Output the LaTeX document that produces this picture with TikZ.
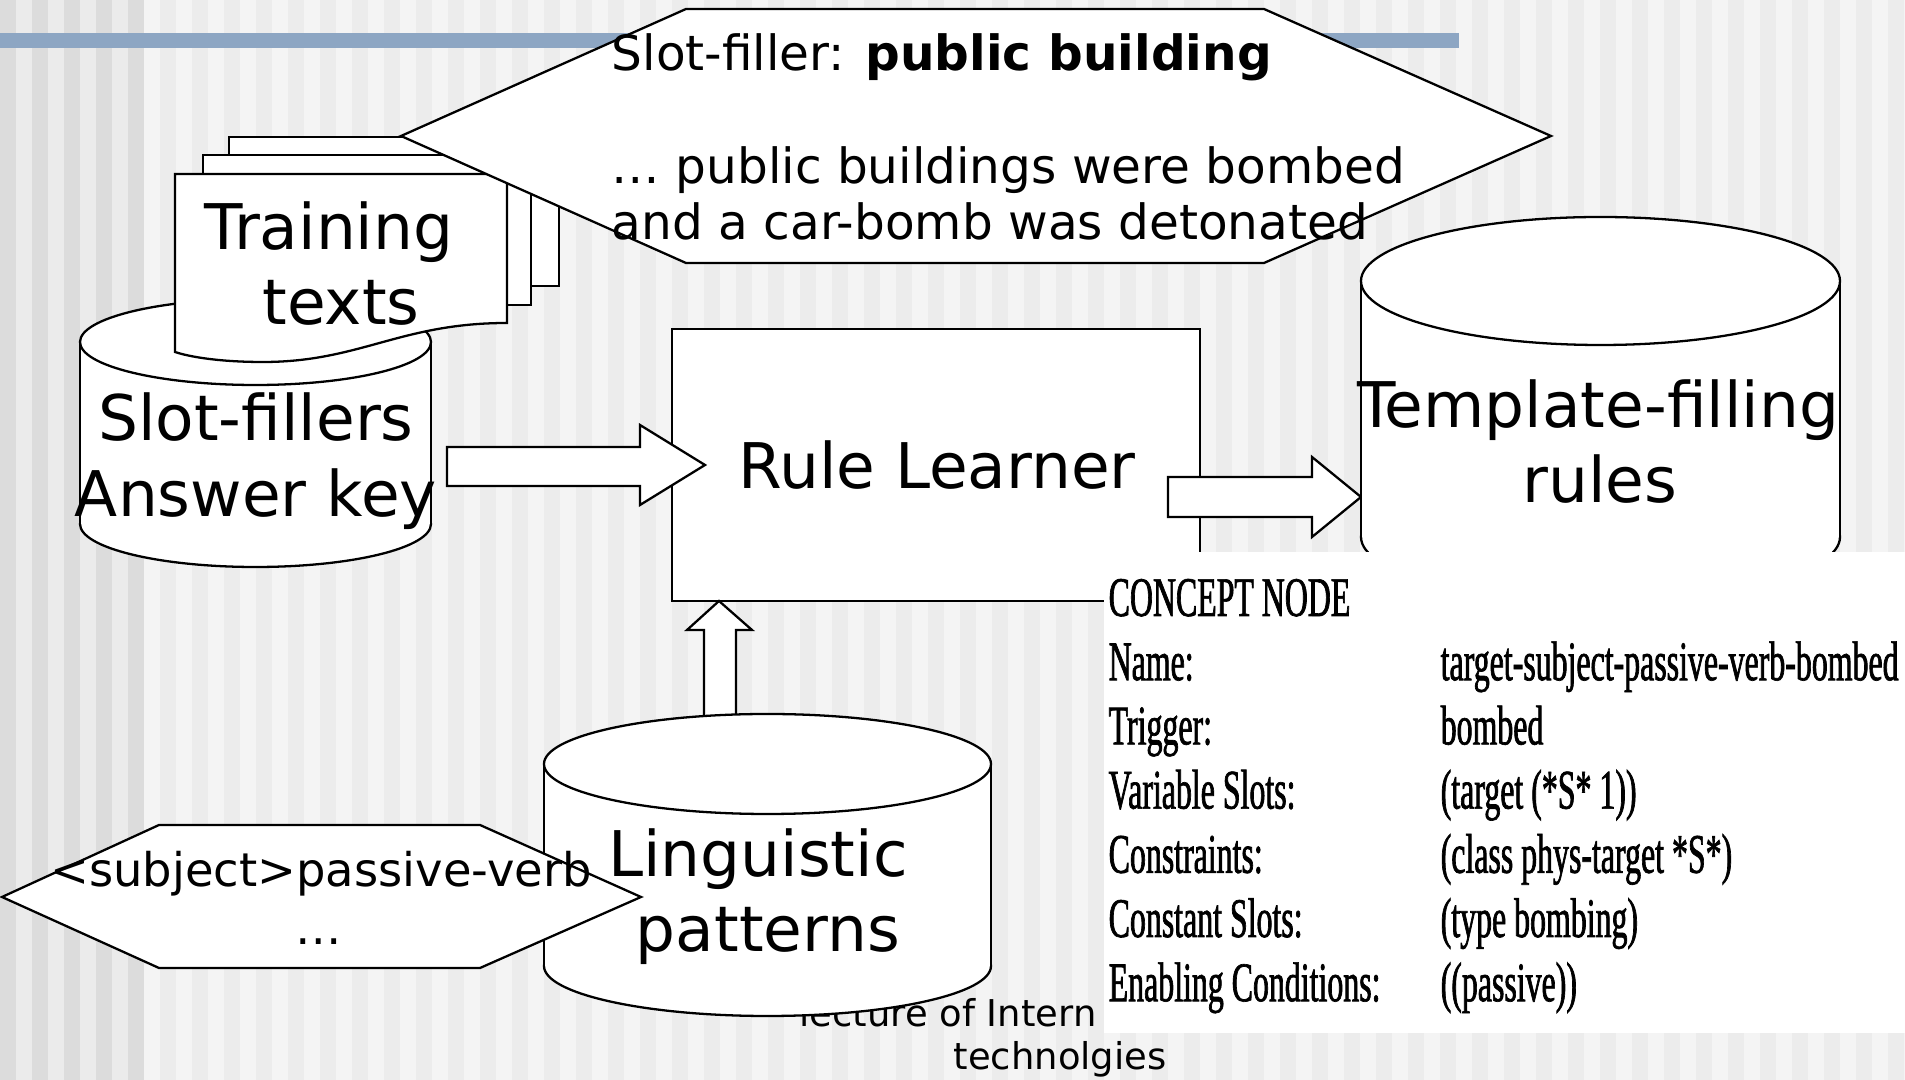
\documentclass[tikz,border=0pt]{standalone}
\usepackage{fontspec}
\setmainfont{DejaVu Sans}
\newfontfamily\cnfont[FakeStretch=0.57,FakeBold=1.2]{Liberation Serif}
\definecolor{stripeA}{HTML}{DCDCDC}
\definecolor{stripeB}{HTML}{EBEBEB}
\definecolor{stripeC}{HTML}{F4F4F4}
\definecolor{stripeD}{HTML}{ECECEC}
\definecolor{barblue}{RGB}{141,166,195}
\tikzset{
  shp/.style={draw=black,fill=white,line width=0.65pt},
  big/.style={inner sep=0pt,anchor=base,font=\fontsize{17.9}{21}\selectfont},
  mid/.style={inner sep=0pt,anchor=base west,font=\fontsize{13.8}{16}\selectfont},
  small/.style={inner sep=0pt,anchor=base,font=\fontsize{13.2}{16}\selectfont},
  foot/.style={inner sep=0pt,anchor=base west,font=\fontsize{10.5}{12}\selectfont},
  cn/.style={inner sep=0pt,anchor=base west,font=\fontsize{15.9}{18}\cnfont},
}
% drum: x left, x right, y top, y bottom, y radius
\newcommand{\drum}[5]{%
  \filldraw[shp] ({(#1+#2)/2},#4) ellipse [x radius={(#2-#1)/2}, y radius=#5];
  \fill[white] (#1,#3) rectangle (#2,#4);
  \draw[line width=0.65pt] (#1,#3) -- (#1,#4) (#2,#3) -- (#2,#4);
  \filldraw[shp] ({(#1+#2)/2},#3) ellipse [x radius={(#2-#1)/2}, y radius=#5];
}
\begin{document}
\begin{tikzpicture}[x=0.01cm,y=-0.01cm]
\useasboundingbox (0,0) rectangle (1905,1080);
% striped backdrop
\fill[stripeC] (0,0) rectangle (1905,1080);
\fill[stripeB] (0,0) rectangle (144,1080);
\foreach \x in {0,32,...,128}
  \fill[stripeA] (\x,0) rectangle (\x+16,1080);
\foreach \x in {160,192,...,1890}
  \fill[stripeD] (\x,0) rectangle (\x+16,1080);
\fill[barblue] (0,33) rectangle (1459,48);

\node[foot] (ft1) at (799,1027) {lecture of Intern};
\node[foot] (ft2) at (953,1070) {technolgies};

% answer key drum and the stack of texts
\drum{80}{431}{342}{524}{43}
\node[big] (sf1) at (256,441) {Slot-fillers};
\node[big] (sf2) at (256,517) {Answer key};
\draw[shp] (229,137) rectangle (559,286);
\draw[shp] (203,155) rectangle (531,305);
\draw[shp] (175,174) -- (507,174) -- (507,323)
  .. controls (400,323) and (360,362) .. (263,362)
  .. controls (220,362) and (190,357) .. (175,352) -- cycle;
\node[big] (tt1) at (329,250) {Training};
\node[big] (tt2) at (341,325) {texts};

% example sentence
\draw[shp] (401,136) -- (686,9) -- (1264,9) -- (1551,136) -- (1264,263) -- (686,263) -- cycle;
\node[mid] (ex1) at (611,71) {Slot-filler: \textbf{public building}};
\node[mid] (ex2) at (611,184) {… public buildings were bombed};
\node[mid] (ex3) at (611,240) {and a car-bomb was detonated};

% learner and arrows
\draw[shp] (672,329) rectangle (1200,601);
\node[big] (rl) at (937,489) {Rule Learner};
\draw[shp] (447,447) -- (640,447) -- (640,425) -- (705,465) -- (640,505) -- (640,486) -- (447,486) -- cycle;
\draw[shp] (1168,477) -- (1312,477) -- (1312,457) -- (1361,497) -- (1312,537) -- (1312,517) -- (1168,517) -- cycle;
\draw[shp] (704,740) -- (704,630) -- (687,630) -- (719,601) -- (752,630) -- (736,630) -- (736,740);

\drum{1361}{1840}{281}{537}{64}
\node[big] (tf1) at (1598,428) {Template-filling};
\node[big] (tf2) at (1600,503) {rules};

\drum{544}{991}{764}{966}{50}
\draw[shp] (2,897) -- (159,825) -- (480,825) -- (641,897) -- (480,968) -- (159,968) -- cycle;
\node[small] (pt1) at (321,887) {<subject>passive-verb};
\node[small] (pt2) at (319,945) {…};
\node[big] (lp1) at (758,877) {Linguistic};
\node[big] (lp2) at (768,952) {patterns};

% concept node card
\fill[white] (1104,552) rectangle (1905,1033);
\node[cn] (cnh) at (1108,616) {CONCEPT NODE};
\foreach \lab/\val [count=\i] in {{Name:}/{target-subject-passive-verb-bombed},
    {Trigger:}/{bombed}, {Variable Slots:}/{(target (*S* 1))},
    {Constraints:}/{(class phys-target *S*)}, {Constant Slots:}/{(type bombing)},
    {Enabling Conditions:}/{((passive))}}
{
  \node[cn] (cnl\i) at (1108,616+64.2*\i) {\lab};
  \node[cn] (cnv\i) at (1440,616+64.2*\i) {\val};
}
\end{tikzpicture}
\end{document}
